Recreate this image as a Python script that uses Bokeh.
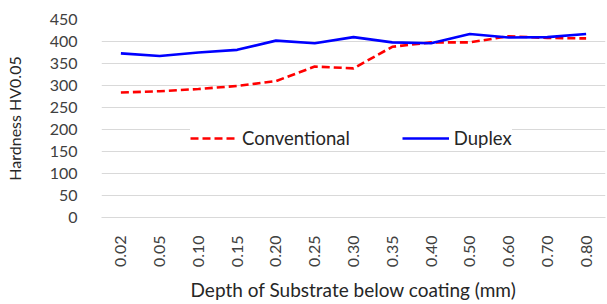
import math
from bokeh.plotting import figure
from bokeh.models import Legend, LegendItem, FactorRange, SingleIntervalTicker
from bokeh.embed import file_html
from bokeh.resources import INLINE

depths = ["0.02", "0.05", "0.10", "0.15", "0.20", "0.25", "0.30", "0.35", "0.40", "0.50", "0.60", "0.70", "0.80"]
conventional = [284, 287, 292, 299, 310, 343, 339, 388, 398, 398, 412, 408, 407]
duplex = [373, 367, 375, 381, 402, 396, 410, 398, 396, 417, 409, 410, 417]

FONT = "Lato"
p = figure(width=607, height=304, x_range=FactorRange(*depths, range_padding=0),
           y_range=(0, 450), output_backend="svg", toolbar_location=None,
           min_border_left=101, min_border_right=2, min_border_top=19, min_border_bottom=87)
p.outline_line_color = None
p.background_fill_color = "white"

r1 = p.line(depths, conventional, line_color="#ff0000", line_width=2.6, line_dash="8 4")
r2 = p.line(depths, duplex, line_color="#0000ff", line_width=2.6)

p.yaxis.ticker = SingleIntervalTicker(interval=50)
p.ygrid.grid_line_color = "#d9d9d9"
p.ygrid.grid_line_width = 1
p.xgrid.grid_line_color = None
p.yaxis.axis_line_color = None
p.yaxis.major_tick_line_color = None
p.yaxis.minor_tick_line_color = None
p.xaxis.axis_line_color = "#d9d9d9"
p.xaxis.major_tick_line_color = None
p.xaxis.minor_tick_line_color = None
p.xaxis.major_label_orientation = math.pi / 2

for ax in (p.xaxis, p.yaxis):
    ax.major_label_text_font = FONT
    ax.major_label_text_font_size = "16px"
    ax.major_label_text_color = "#404040"
    ax.axis_label_text_font = FONT
    ax.axis_label_text_font_style = "normal"
    ax.axis_label_text_color = "#262626"

p.xaxis.axis_label = "Depth of Substrate below coating (mm)"
p.yaxis.axis_label = "Hardness HV0.05"
p.xaxis.axis_label_text_font_size = "19px"
p.yaxis.axis_label_text_font_size = "16px"
p.yaxis.major_label_standoff = 18
p.xaxis.major_label_standoff = 12
p.xaxis.axis_label_standoff = 8
p.yaxis.axis_label_standoff = 23

legend = Legend(items=[LegendItem(label="Conventional", renderers=[r1]),
                       LegendItem(label="Duplex", renderers=[r2])],
                orientation="horizontal", location=(89, 68),
                border_line_color=None, background_fill_color="white", background_fill_alpha=1,
                padding=0, margin=0, spacing=52, glyph_width=47, label_standoff=5,
                label_text_font=FONT, label_text_font_size="18.5px", label_text_color="#262626")
p.add_layout(legend, "center")

open("out.html", "w").write(file_html(p, INLINE))
